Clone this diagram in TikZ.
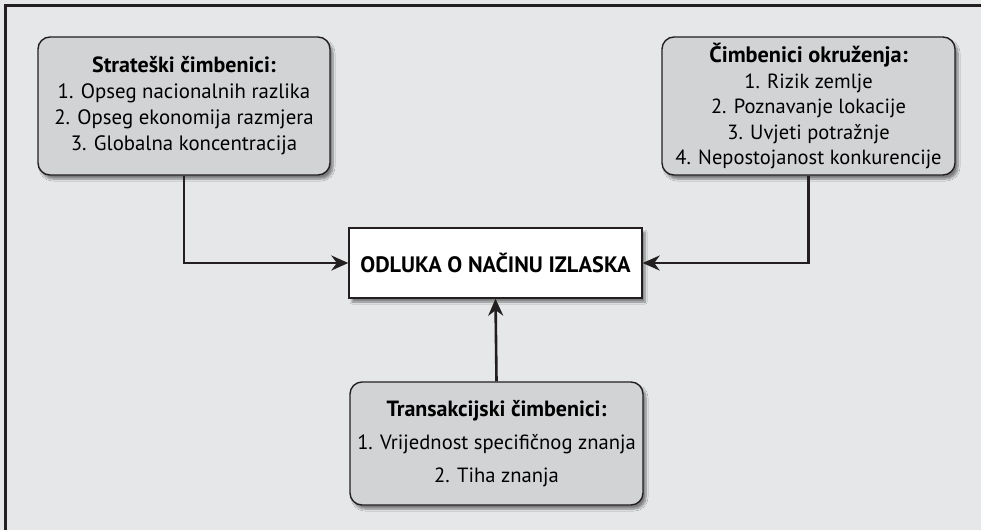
\documentclass[tikz,border=0pt]{standalone}
\usepackage{fontspec}
\setmainfont{PT Sans}
\usetikzlibrary{arrows.meta,shadows.blur}
\definecolor{bgc}{HTML}{E6E7E8}
\definecolor{boxc}{HTML}{D1D3D4}
\definecolor{linec}{HTML}{231F20}
\newcommand{\hd}[2]{{\fontsize{#1}{26}\selectfont\bfseries #2}}
\tikzset{
  factor/.style={draw=linec, line width=1.4pt, fill=boxc, rounded corners=12pt,
    align=center, inner sep=0pt, font=\fontsize{20.8}{26}\selectfont,
    blur shadow={shadow xshift=3pt, shadow yshift=-4pt, shadow blur steps=8, shadow opacity=45}},
  decision/.style={draw=linec, line width=1.4pt, fill=white, align=center, inner sep=0pt,
    font=\bfseries\fontsize{22.3}{26}\selectfont,
    blur shadow={shadow xshift=3pt, shadow yshift=-4pt, shadow blur steps=8, shadow opacity=45}},
  conn/.style={draw=linec, line width=2.6pt, -{Stealth[length=17pt,width=15pt]}},
}
\begin{document}
\begin{tikzpicture}[x=1pt,y=-1pt]
\useasboundingbox (0,0) rectangle (981,530);
\fill[bgc] (0,0) rectangle (981,530);
\draw[linec, line width=3pt] (5.5,530) -- (5.5,5.5) -- (981,5.5);
\node[factor, minimum width=292pt, minimum height=138pt] (L) at (184,106)
  {\hd{22}{Strateški čimbenici:}\\1. Opseg nacionalnih razlika\\2. Opseg ekonomija razmjera\\3. Globalna koncentracija};
\node[factor, minimum width=293pt, minimum height=138pt, font=\fontsize{20.5}{25.5}\selectfont] (R) at (808.5,106)
  {\hd{22.3}{Čimbenici okruženja:}\\1. Rizik zemlje\\2. Poznavanje lokacije\\3. Uvjeti potražnje\\4. Nepostojanost konkurencije};
\node[decision, minimum width=293pt, minimum height=70pt] (C) at (495.5,263)
  {ODLUKA O NAČINU IZLASKA};
\node[factor, minimum width=293pt, minimum height=123pt, font=\fontsize{20.6}{33}\selectfont] (B) at (496.5,443.5)
  {\hd{22}{Transakcijski čimbenici:}\\1. Vrijednost specifičnog znanja\\2. Tiha znanja};
\draw[conn] (L.south) |- (C.west);
\draw[conn] (R.south) |- (C.east);
\draw[conn] (B.north) -- (C.south);
\end{tikzpicture}
\end{document}
